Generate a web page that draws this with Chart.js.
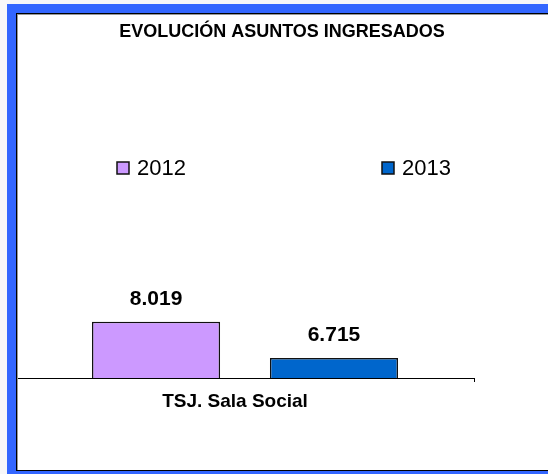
<!DOCTYPE html>
<html>
<head>
<meta charset="utf-8">
<script src="https://cdn.jsdelivr.net/npm/chart.js@4.4.1/dist/chart.umd.min.js"></script>
<style>
	html, body { margin: 0; padding: 0; background: #f7f7f9; }
	#page { position: relative; width: 548px; height: 474px; overflow: hidden; }
	#frame { position: absolute; left: 7px; top: 4px; width: 541px; height: 470px; background: #3366ff; }
	#chartBox { position: absolute; left: 16px; top: 13px; width: 532px; height: 458px; background: #fff; }
	#chartBox canvas { position: absolute; left: 0; top: 0; }
	#edge { position: absolute; left: 16px; top: 13px; width: 532px; height: 458px; box-sizing: border-box;
		border-top: 1px solid #000; border-left: 1px solid #000; border-bottom: 1px solid #000;
		box-shadow: inset 1px 1px 0 #999; pointer-events: none; }
</style>
</head>
<body>
<div id="page">
	<div id="frame"></div>
	<div id="chartBox"><canvas id="myChart" width="532" height="458"></canvas></div>
	<div id="edge"></div>
</div>
<script>
// data
let categories = ['TSJ. Sala Social']
let years = ['2012', '2013']
let values2012 = [8019]
let values2013 = [6715]
let colors = ['#cc99ff', '#0066cc']

// spanish thousands separator, 8019 -> 8.019
function formatNumber(n) {
	return String(n).replace(/\B(?=(\d{3})+(?!\d))/g, '.')
}

// ***** VALUE LABELS *****
const valueLabels = {
	id: 'valueLabels',
	afterDatasetsDraw(chart) {
		const ctx = chart.ctx
		ctx.save()
		ctx.font = 'bold 21px "Liberation Sans", Arial, sans-serif'
		ctx.fillStyle = '#000'
		ctx.textAlign = 'center'
		ctx.textBaseline = 'alphabetic'
		chart.data.datasets.forEach((ds, i) => {
			chart.getDatasetMeta(i).data.forEach((bar, j) => {
				ctx.fillText(formatNumber(ds.data[j]), bar.x, bar.y - 17)
			})
		})
		ctx.restore()
	},
}

// ***** LEGEND *****
// the original legend puts the two entries far apart, so draw it here
const wideLegend = {
	id: 'wideLegend',
	afterDraw(chart, args, opts) {
		const ctx = chart.ctx
		ctx.save()
		ctx.font = '22px "Liberation Sans", Arial, sans-serif'
		ctx.textBaseline = 'middle'
		chart.data.datasets.forEach((ds, i) => {
			let x = opts.x[i]
			let y = opts.y
			ctx.fillStyle = ds.backgroundColor
			ctx.fillRect(x, y - 6, 12, 12)
			ctx.lineWidth = 1.5
			ctx.strokeStyle = '#111'
			ctx.strokeRect(x, y - 6, 12, 12)
			ctx.fillStyle = '#000'
			ctx.fillText(ds.label, x + 20, y + 1)
		})
		ctx.restore()
	},
}

let ctx = document.getElementById('myChart').getContext('2d')
let myChart = new Chart(ctx, {
	type: 'bar',
	data: {
		labels: categories,
		datasets: [
			{
				label: years[0],
				data: values2012,
				backgroundColor: colors[0],
				borderColor: '#111',
				borderWidth: 1.5,
				borderSkipped: false,
			},
			{
				label: years[1],
				data: values2013,
				backgroundColor: colors[1],
				borderColor: '#111',
				borderWidth: 1.5,
				borderSkipped: false,
			},
		],
	},
	options: {
		responsive: false,
		animation: false,
		categoryPercentage: 0.777,
		barPercentage: 0.72,
		layout: { padding: 0 },
		plugins: {
			legend: { display: false },
			tooltip: { enabled: false },
			title: {
				display: true,
				text: 'EVOLUCIÓN ASUNTOS INGRESADOS',
				color: '#000',
				font: { family: '"Liberation Sans", Arial, sans-serif', size: 18, weight: 'bold' },
				padding: { top: 8, bottom: 224 },
			},
			wideLegend: { x: [101, 366], y: 155 },
		},
		scales: {
			x: {
				grid: {
					display: true,
					drawOnChartArea: false,
					drawTicks: true,
					tickLength: 4,
					color: '#000',
				},
				border: { display: true, color: '#000', width: 1 },
				ticks: {
					color: '#000',
					padding: 8,
					labelOffset: -10,
					font: { family: '"Liberation Sans", Arial, sans-serif', size: 19, weight: 'bold' },
				},
				afterFit: (scale) => { scale.height = 93 },
			},
			y: {
				position: 'right',
				min: 6000,
				max: 10000,
				grid: { display: false },
				border: { display: false },
				ticks: { display: false },
				afterFit: (scale) => { scale.width = 74 },
			},
		},
	},
	plugins: [valueLabels, wideLegend],
})
</script>
</body>
</html>
